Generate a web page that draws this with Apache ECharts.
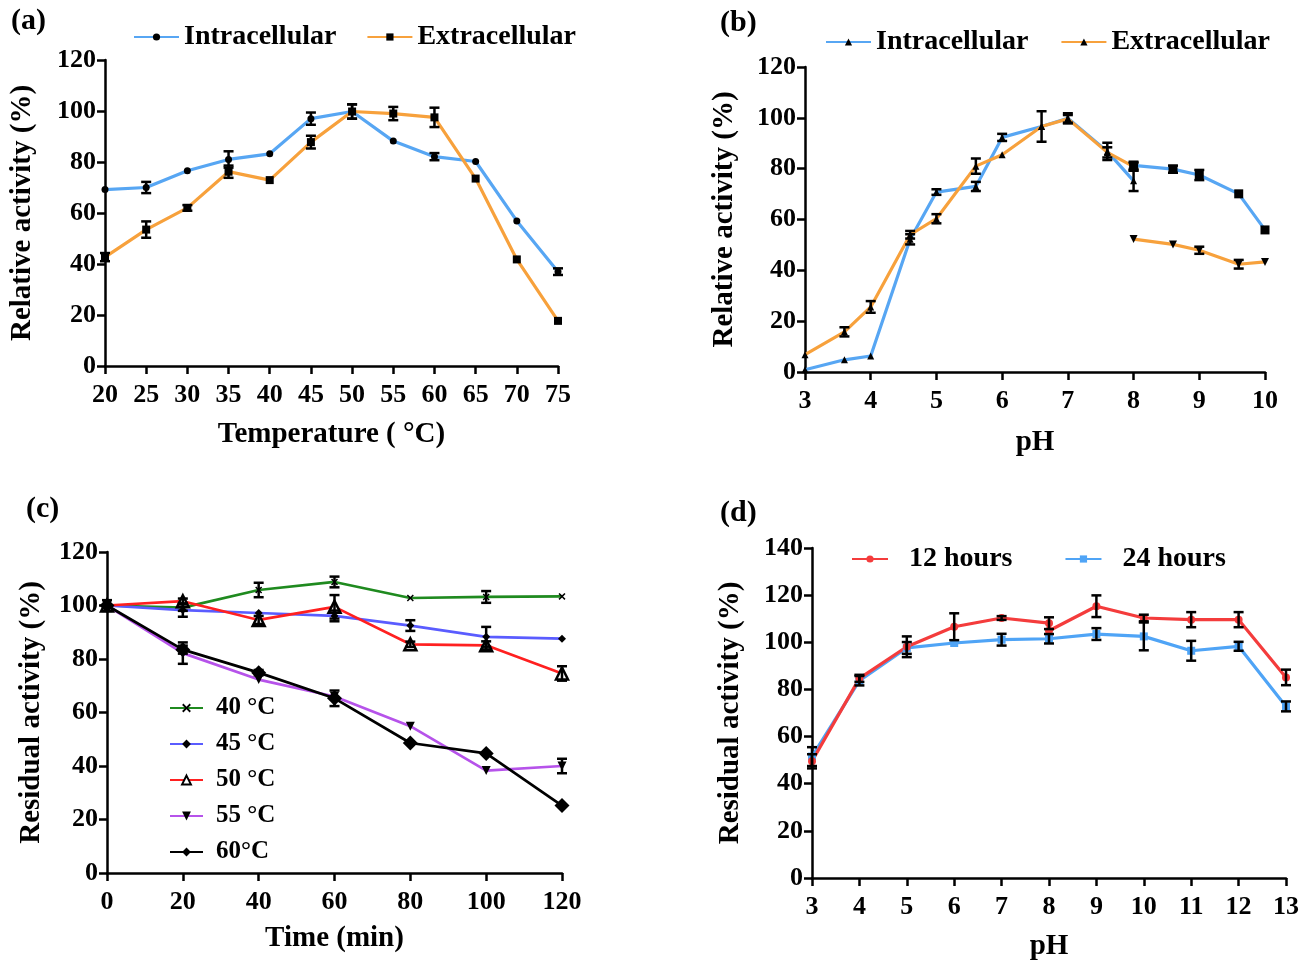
<!DOCTYPE html>
<html>
<head>
<meta charset="utf-8">
<script src="https://cdn.jsdelivr.net/npm/echarts@6/dist/echarts.min.js"></script>
<style>
  html, body { margin: 0; padding: 0; background: #fff; }
  #chart { width: 1302px; height: 963px; }
</style>
</head>
<body>
<div id="chart"></div>
<script>
// (a) temperature optimum
const tempX = [20, 25, 30, 35, 40, 45, 50, 55, 60, 65, 70, 75];
const intraTemp = [69.2, 70, 76.6, 81, 83.2, 97, 99.8, 88.2, 82.1, 80.2, 56.9, 37];
const intraTempErr = [0, 2.2, 0, 3.2, 0, 2.4, 2.8, 0, 1.4, 0, 0, 1.3];
const extraTemp = [42.7, 53.5, 62, 76.2, 72.9, 87.8, 99.8, 99, 97.5, 73.5, 41.8, 17.7];
const extraTempErr = [1.6, 3.2, 1.1, 2.4, 0, 2.5, 2.8, 2.6, 3.8, 0, 0, 0];

// (b) pH optimum, two buffer ranges
const phX1 = [3, 3.6, 4, 4.6, 5, 5.6, 6, 6.6, 7, 7.6, 8];
const intraPh1 = [0.9, 4.8, 6.3, 52.2, 70.8, 73, 92.3, 96.6, 99.8, 86.8, 75.2];
const intraPh1Err = [0, 0, 0, 2, 1.1, 1.8, 1.4, 6, 2, 3.4, 4];
const extraPh1 = [6.8, 15.8, 25.6, 54, 60.3, 81, 85.5, 96.6, 99.6, 86.4, 80.8];
const extraPh1Err = [0, 1.8, 2.3, 1.5, 1.8, 3, 0, 0, 1.5, 2, 1.5];
const phX2 = [8, 8.6, 9, 9.6, 10];
const intraPh2 = [81.3, 79.8, 77.5, 70.1, 55.9];
const intraPh2Err = [1.4, 1.4, 2, 0, 0];
const extraPh2 = [52.3, 50.2, 47.9, 42.4, 43.3];
const extraPh2Err = [0, 0, 1.4, 1.7, 0];

// (c) thermal stability
const timeX = [0, 20, 40, 60, 80, 100, 120];
const t40 = [100, 99.2, 105.8, 108.8, 102.8, 103.2, 103.4];
const t40Err = [2, 1.2, 2.7, 2, 0, 2.2, 0];
const t45 = [100, 98.3, 97.2, 96.1, 92.5, 88.3, 87.6];
const t45Err = [0, 2.5, 0, 2, 2, 3.7, 0];
const t50 = [100, 101.6, 94.6, 99.5, 85.5, 85.1, 74.6];
const t50Err = [0, 1, 1.5, 4.4, 1, 1.5, 2.7];
const t55 = [100, 82.2, 72.3, 66, 54.9, 38.3, 40];
const t55Err = [0, 4, 0, 0, 0, 0, 2.7];
const t60 = [100, 83.5, 74.9, 65.3, 48.6, 44.7, 25.2];
const t60Err = [0, 1.5, 1, 2.9, 0, 0, 0];

// (d) pH stability
const stabX12 = [3, 4, 5, 6, 7, 8, 8, 9, 10, 11, 12, 13];
const h12 = [49.5, 84.7, 98.1, 106.6, 110.3, 108.1, 104.9, 115.3, 110.3, 109.6, 109.6, 85.1];
const h12Err = [3, 1.5, 4.4, 5.7, 0.8, 2.5, 0, 4.6, 1.4, 3.2, 3.2, 3.3];
const stabX24 = [3, 4, 5, 6, 7, 8, 9, 10, 11, 12, 13];
const h24 = [51.5, 83.7, 97.6, 99.7, 101.1, 101.5, 103.5, 102.5, 96.4, 98.3, 72.8];
const h24Err = [4, 2, 2.5, 0, 2.5, 2, 2.5, 5.9, 4.2, 1.9, 2.1];

const FONT = 'Liberation Serif';
const BLUE = '#57a6f3';
const ORANGE = '#f7a13c';

const chart = echarts.init(document.getElementById('chart'));

function pairs(xs, ys) {
  return xs.map((x, i) => [x, ys[i]]);
}
function errData(xs, ys, es) {
  const out = [];
  xs.forEach((x, i) => {
    if (es[i] > 0) out.push([x, ys[i] - es[i], ys[i] + es[i]]);
  });
  return out;
}
function renderErr(params, api) {
  const x = api.value(0);
  const top = api.coord([x, api.value(2)]);
  const bot = api.coord([x, api.value(1)]);
  const w = 5;
  const st = { stroke: '#000', lineWidth: 2.5 };
  return {
    type: 'group',
    children: [
      { type: 'line', shape: { x1: top[0], y1: top[1], x2: bot[0], y2: bot[1] }, style: st },
      { type: 'line', shape: { x1: top[0] - w, y1: top[1], x2: top[0] + w, y2: top[1] }, style: st },
      { type: 'line', shape: { x1: bot[0] - w, y1: bot[1], x2: bot[0] + w, y2: bot[1] }, style: st }
    ]
  };
}
function errSeries(idx, data) {
  return {
    type: 'custom', xAxisIndex: idx, yAxisIndex: idx, renderItem: renderErr,
    data: data, encode: { x: 0, y: [1, 2] }, z: 5, silent: true, clip: false
  };
}
function lineSeries(idx, name, data, color, symbol, size, extra) {
  return Object.assign({
    type: 'line', name: name, xAxisIndex: idx, yAxisIndex: idx, data: data,
    symbol: symbol, symbolSize: size, showAllSymbol: true, clip: false,
    lineStyle: { color: color, width: 3.2 },
    itemStyle: { color: '#000' },
    z: 3
  }, extra || {});
}

const axisCommon = {
  axisLine: { show: true, onZero: false, lineStyle: { color: '#000', width: 2.5 } },
  axisTick: { show: true, length: 8, lineStyle: { color: '#000', width: 2.5 } },
  splitLine: { show: false },
  nameLocation: 'middle',
  nameTextStyle: { fontFamily: FONT, fontWeight: 'bold', fontSize: 29, color: '#000' }
};
function xAx(idx, min, max, interval, name, gap) {
  return Object.assign({}, axisCommon, {
    type: 'value', gridIndex: idx, min: min, max: max, interval: interval,
    name: name, nameGap: gap,
    axisLabel: { color: '#000', fontFamily: FONT, fontWeight: 'bold', fontSize: 26, margin: 16 }
  });
}
function yAx(idx, max, name, gap) {
  return Object.assign({}, axisCommon, {
    type: 'value', gridIndex: idx, min: 0, max: max, interval: 20,
    name: name, nameGap: gap,
    axisLabel: { color: '#000', fontFamily: FONT, fontWeight: 'bold', fontSize: 26, margin: 9 }
  });
}
const legendText = { fontFamily: FONT, fontWeight: 'bold', fontSize: 28, color: '#000' };
const xMarker = 'path://M0,1.5L1.5,0L5,3.5L8.5,0L10,1.5L6.5,5L10,8.5L8.5,10L5,6.5L1.5,10L0,8.5L3.5,5Z';
const labelFont = 'bold 30px "Liberation Serif"';

const option = {
  backgroundColor: '#fff',
  animation: false,
  grid: [
    { left: 105, top: 60, width: 453, height: 306 },
    { left: 805, top: 67, width: 460, height: 305 },
    { left: 107, top: 552, width: 455, height: 321 },
    { left: 812, top: 548, width: 475, height: 330 }
  ],
  xAxis: [
    xAx(0, 20, 75, 5, 'Temperature ( °C)', 54),
    xAx(1, 3, 10, 1, 'pH', 56),
    xAx(2, 0, 120, 20, 'Time (min)', 51),
    xAx(3, 3, 13, 1, 'pH', 54)
  ],
  yAxis: [
    yAx(0, 120, 'Relative activity (%)', 68),
    yAx(1, 120, 'Relative activity (%)', 66),
    yAx(2, 120, 'Residual activity (%)', 61),
    yAx(3, 140, 'Residual activity (%)', 67)
  ],
  legend: [
    {
      data: ['Intracellular', 'Extracellular'], left: 128, top: 18,
      itemWidth: 45, itemHeight: 9, itemGap: 30, textStyle: legendText
    },
    {
      data: ['Intracellular (pH)', 'Extracellular (pH)'], left: 820, top: 23,
      itemWidth: 45, itemHeight: 9, itemGap: 32, textStyle: legendText,
      formatter: n => n.replace(' (pH)', '')
    },
    {
      data: ['40 °C', '45 °C', '50 °C', '55 °C', '60°C'], left: 164, top: 690, orient: 'vertical',
      itemWidth: 33, itemHeight: 11, itemGap: 10,
      textStyle: Object.assign({}, legendText, { fontSize: 25, lineHeight: 26, padding: [0, 0, 0, 8] })
    },
    {
      data: ['12 hours', '24 hours'], left: 846, top: 540,
      itemWidth: 36, itemHeight: 9, itemGap: 52,
      textStyle: Object.assign({}, legendText, { fontSize: 28, padding: [0, 0, 0, 16] })
    }
  ],
  graphic: [
    { type: 'text', left: 11, top: 6, style: { text: '(a)', font: labelFont, fill: '#000' } },
    { type: 'text', left: 720, top: 8, style: { text: '(b)', font: labelFont, fill: '#000' } },
    { type: 'text', left: 26, top: 494, style: { text: '(c)', font: labelFont, fill: '#000' } },
    { type: 'text', left: 720, top: 498, style: { text: '(d)', font: labelFont, fill: '#000' } }
  ],
  series: [
    // (a)
    lineSeries(0, 'Intracellular', pairs(tempX, intraTemp), BLUE, 'circle', 7),
    lineSeries(0, 'Extracellular', pairs(tempX, extraTemp), ORANGE, 'rect', 8),
    errSeries(0, errData(tempX, intraTemp, intraTempErr)),
    errSeries(0, errData(tempX, extraTemp, extraTempErr)),
    // (b)
    lineSeries(1, 'Intracellular (pH)', pairs(phX1, intraPh1), BLUE, 'triangle', 7),
    lineSeries(1, 'Extracellular (pH)', pairs(phX1, extraPh1), ORANGE, 'triangle', 7),
    lineSeries(1, 'Intracellular 8-10', pairs(phX2, intraPh2), BLUE, 'rect', 9),
    lineSeries(1, 'Extracellular 8-10', pairs(phX2, extraPh2), ORANGE, 'triangle', 8, { symbolRotate: 180 }),
    errSeries(1, errData(phX1, intraPh1, intraPh1Err)),
    errSeries(1, errData(phX1, extraPh1, extraPh1Err)),
    errSeries(1, errData(phX2, intraPh2, intraPh2Err)),
    errSeries(1, errData(phX2, extraPh2, extraPh2Err)),
    // (c)
    lineSeries(2, '40 °C', pairs(timeX, t40), '#1f8a1f', xMarker, 7, { lineStyle: { color: '#1f8a1f', width: 2.7 } }),
    lineSeries(2, '45 °C', pairs(timeX, t45), '#5a5cff', 'diamond', 8, { lineStyle: { color: '#5a5cff', width: 2.7 } }),
    lineSeries(2, '50 °C', pairs(timeX, t50), '#ff2020', 'triangle', 12, {
      lineStyle: { color: '#ff2020', width: 2.7 },
      itemStyle: { color: '#fff', borderColor: '#000', borderWidth: 2.5 }
    }),
    lineSeries(2, '55 °C', pairs(timeX, t55), '#b653ea', 'triangle', 9, { symbolRotate: 180, lineStyle: { color: '#b653ea', width: 2.7 } }),
    lineSeries(2, '60°C', pairs(timeX, t60), '#000', 'diamond', 15, { lineStyle: { color: '#000', width: 2.7 } }),
    errSeries(2, errData(timeX, t40, t40Err)),
    errSeries(2, errData(timeX, t45, t45Err)),
    errSeries(2, errData(timeX, t50, t50Err)),
    errSeries(2, errData(timeX, t55, t55Err)),
    errSeries(2, errData(timeX, t60, t60Err)),
    // (d)
    lineSeries(3, '24 hours', pairs(stabX24, h24), '#4fa4f6', 'rect', 8, { itemStyle: { color: '#4fa4f6' } }),
    lineSeries(3, '12 hours', pairs(stabX12, h12), '#f43c3c', 'circle', 8, { itemStyle: { color: '#f43c3c' } }),
    errSeries(3, errData(stabX12, h12, h12Err)),
    errSeries(3, errData(stabX24, h24, h24Err))
  ]
};
chart.setOption(option);
</script>
</body>
</html>
